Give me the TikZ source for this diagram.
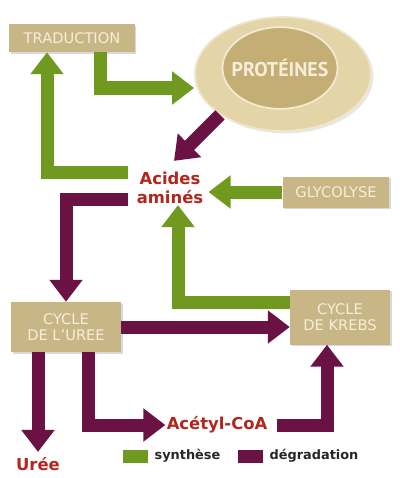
\documentclass[tikz,border=0pt]{standalone}
\usepackage{fontspec}
\setmainfont{DejaVu Sans}
\newfontfamily\ptsans{PT Sans}
\usetikzlibrary{arrows.meta, positioning, shapes.geometric, calc, shadows}
\definecolor{vert}{HTML}{6F9A1F}
\definecolor{prune}{HTML}{6B1245}
\definecolor{sable}{HTML}{C9B686}
\definecolor{sableclair}{HTML}{E4D5A8}
\definecolor{sablefonce}{HTML}{C4AE74}
\definecolor{creme}{HTML}{F6EEDA}
\definecolor{brique}{HTML}{B3261E}
\tikzset{%
   boite/.style={
      rectangle,
      fill=sable,
      text=creme,
      align=center,
      inner sep=0pt,
      font=\fontsize{12.5}{14}\selectfont,
      drop shadow={opacity=.3, shadow xshift=1.5pt, shadow yshift=-1.5pt}
   },
   synth/.style={
      draw=vert,
      line width=3.9mm,
      -{Triangle[width=9.6mm, length=6.6mm]}
   },
   degr/.style={
      draw=prune,
      line width=3.9mm,
      -{Triangle[width=9.6mm, length=6.6mm]}
   },
   mol/.style={
      text=brique,
      align=center,
      inner sep=1pt,
      font=\bfseries\fontsize{14}{16}\selectfont
   },
   leg/.style={
      minimum width=7.5mm,
      minimum height=3.9mm,
      inner sep=0pt
   },
   legtxt/.style={
      inner sep=0pt,
      text=black!85,
      font=\bfseries\fontsize{11}{13}\selectfont
   },
}

\begin{document}
\begin{tikzpicture}[x=0.03cm, y=-0.03cm]
         \useasboundingbox (0,0) rectangle (400,478);
         \node[boite, minimum width=3.75cm, minimum height=0.84cm] (trad) at (72,38) {TRADUCTION};
         \node[ellipse, fill=sableclair, draw=sableclair!60!white, line width=1.5pt,
               minimum width=5.28cm, minimum height=3.42cm,
               drop shadow={opacity=.2, shadow xshift=2pt, shadow yshift=-2pt}] (prot) at (283,74) {};
         \node[ellipse, fill=sablefonce, draw=sableclair!50!white, line width=1.5pt,
               minimum width=3.45cm, minimum height=2.45cm] (protin) at (280,68) {};
         \node[text=creme, font=\ptsans\bfseries\fontsize{17}{19}\selectfont] (protxt) at (280,68) {PROTÉINES};
         \node[mol] (aa) at (170,188) {Acides\\aminés};
         \node[boite, minimum width=3.2cm, minimum height=0.93cm] (gly) at (336,192) {GLYCOLYSE};
         \node[boite, minimum width=3.3cm, minimum height=1.5cm] (cu) at (66,327) {CYCLE\\DE L'UREE};
         \node[boite, minimum width=3cm, minimum height=1.65cm] (ck) at (340,317) {CYCLE\\DE KREBS};
         \node[mol] (acoa) at (217,425) {Acétyl-CoA};
         \node[mol] (ur) at (38,464) {Urée};
         \node[leg, fill=vert] (ls) at (135,456) {};
         \node[legtxt, right=2mm of ls] (lst) {synthèse};
         \node[leg, fill=prune] (ld) at (250,456) {};
         \node[legtxt, right=2mm of ld] (ldt) {dégradation};
         \draw[synth] ($(trad.south)+(28,0)$) |- ($(prot.west)+(0,14)$);
         \draw[degr] (prot.213) -- ($(aa.north)+(4,-10)$);
         \draw[synth] ($(aa.west)+(-7,-16)$) -| ($(trad.south)+(-25,0)$);
         \draw[synth] (gly.west) -- ($(gly.west -| aa.east)+(4,0)$);
         \draw[degr] ($(aa.west)+(-7,11)$) -| (cu.north);
         \draw[synth] ($(ck.west)+(0,-15)$) -| ($(aa.south)+(8,0)$);
         \draw[degr] (cu.east) -- (cu.east -| ck.west);
         \draw[degr] ($(cu.south)+(-28,0)$) -- ($(ur.north)+(0,-4)$);
         \draw[degr] ($(cu.south)+(22,0)$) |- (acoa.west);
         \draw[degr] ($(acoa.east)+(8,0)$) -| ($(ck.south)+(-13,0)$);
      \end{tikzpicture}
\end{document}
